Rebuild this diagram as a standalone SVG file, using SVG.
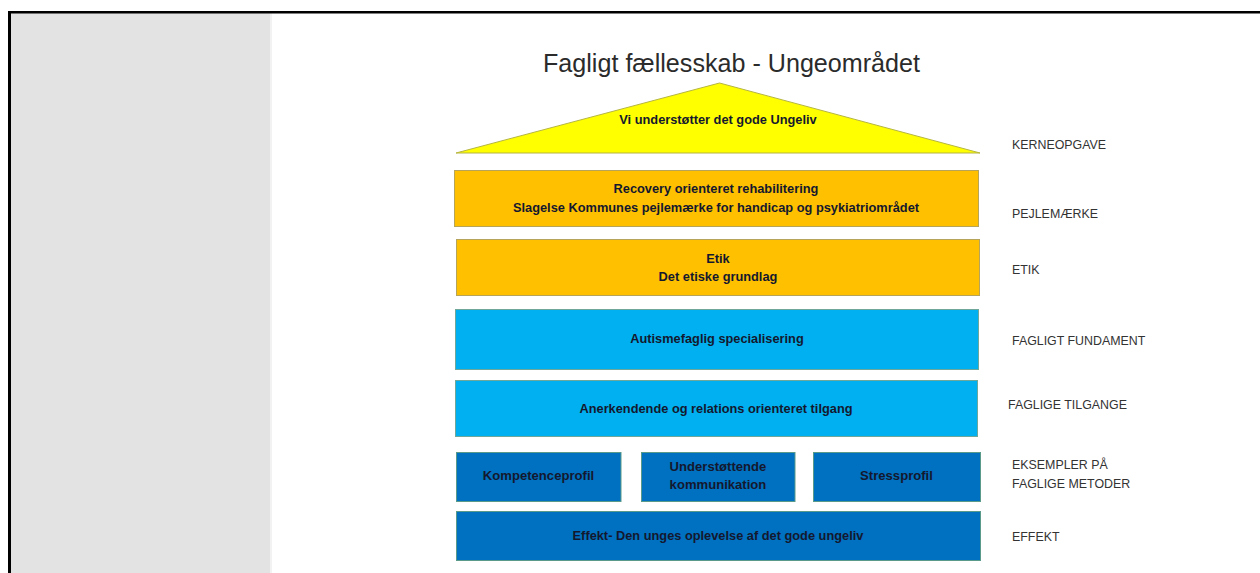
<svg xmlns="http://www.w3.org/2000/svg" width="1260" height="573" viewBox="0 0 1260 573">
<style>
.bx{stroke-width:1}
.or{fill:#ffc000;stroke:#b5a45a}
.cy{fill:#00b0f0;stroke:#6fa89a}
.db{fill:#0070c0;stroke:#5a9a8a}
.t{font-family:"Liberation Sans",Arial,sans-serif;font-weight:bold;font-size:12.8px;fill:#14182e;text-anchor:middle}
.ts{font-size:13.1px}
.lb{font-family:"Liberation Sans",Arial,sans-serif;font-size:12.4px;fill:#333}
.title{font-family:"Liberation Sans",Arial,sans-serif;font-size:25px;fill:#2b2b2b;text-anchor:middle}
</style>
<rect x="0" y="0" width="1260" height="573" fill="#fff"/>
<rect x="11" y="13" width="259" height="560" fill="#e3e3e3"/>
<rect x="270" y="13" width="2" height="560" fill="#f2f2f2"/>
<rect x="8" y="11" width="1252" height="2.5" fill="#000"/>
<rect x="8" y="11" width="3" height="562" fill="#000"/>
<text class="title" x="731.5" y="71.5" textLength="377" lengthAdjust="spacingAndGlyphs">Fagligt fællesskab - Ungeområdet</text>
<g id="connectors"></g>
<g id="kerneopgave">
<polygon points="719.5,83 980,153 456,153" fill="#ffff00" stroke="#b5b540" stroke-width="1"/>
<text class="t" x="718" y="124">Vi understøtter det gode Ungeliv</text>
</g>
<g id="pejlemaerke">
<rect class="bx or" x="454.5" y="170.5" width="524" height="56"/>
<text class="t" x="716" y="193">Recovery orienteret rehabilitering</text>
<text class="t" x="716" y="211.5">Slagelse Kommunes pejlemærke for handicap og psykiatriområdet</text>
</g>
<g id="etik">
<rect class="bx or" x="456.5" y="239.5" width="523" height="56"/>
<text class="t" x="718" y="262.5">Etik</text>
<text class="t" x="718" y="280.5">Det etiske grundlag</text>
</g>
<g id="fundament">
<rect class="bx cy" x="455.5" y="309.5" width="523" height="60"/>
<text class="t" x="717" y="343">Autismefaglig specialisering</text>
</g>
<g id="tilgange">
<rect class="bx cy" x="455.5" y="380.5" width="522" height="56"/>
<text class="t" x="716" y="413">Anerkendende og relations orienteret tilgang</text>
</g>
<g id="kompetenceprofil">
<rect class="bx db" x="456.5" y="452.5" width="164.5" height="49"/>
<text class="t ts" x="538.5" y="480">Kompetenceprofil</text>
</g>
<g id="kommunikation">
<rect class="bx db" x="641.5" y="452.5" width="153.5" height="49"/>
<text class="t ts" x="718" y="471">Understøttende</text>
<text class="t ts" x="718" y="489">kommunikation</text>
</g>
<g id="stressprofil">
<rect class="bx db" x="813.5" y="452.5" width="167" height="49"/>
<text class="t ts" x="896.5" y="480">Stressprofil</text>
</g>
<g id="effekt">
<rect class="bx db" x="456.5" y="511.5" width="524" height="49"/>
<text class="t" x="718" y="540">Effekt- Den unges oplevelse af det gode ungeliv</text>
</g>
<g id="labels">
<text class="lb" x="1012" y="149">KERNEOPGAVE</text>
<text class="lb" x="1012" y="217.5">PEJLEMÆRKE</text>
<text class="lb" x="1012" y="274">ETIK</text>
<text class="lb" x="1012" y="345">FAGLIGT FUNDAMENT</text>
<text class="lb" x="1008" y="408.5">FAGLIGE TILGANGE</text>
<text class="lb" x="1012" y="469">EKSEMPLER PÅ</text>
<text class="lb" x="1012" y="487.5">FAGLIGE METODER</text>
<text class="lb" x="1012" y="541">EFFEKT</text>
</g>
</svg>
